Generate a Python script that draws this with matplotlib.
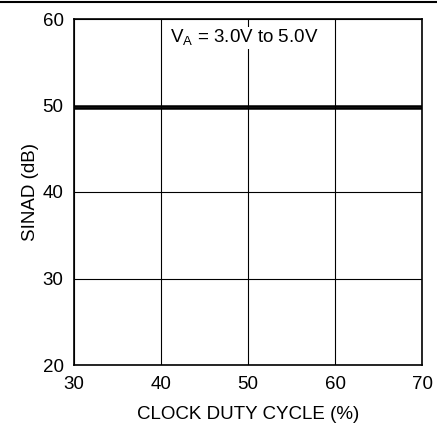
import matplotlib
matplotlib.use("Agg")
import matplotlib.pyplot as plt
from matplotlib.lines import Line2D

# SINAD vs clock duty cycle, two supply voltages
duty_cycle = [30, 35, 40, 45, 50, 55, 60, 65, 70]
sinad_3v0 = [49.9, 49.9, 49.9, 49.9, 49.9, 49.9, 49.9, 49.9, 49.9]
sinad_5v0 = [49.7, 49.7, 49.7, 49.7, 49.7, 49.7, 49.7, 49.7, 49.7]

x_ticks = [30, 40, 50, 60, 70]
y_ticks = [20, 30, 40, 50, 60]

plt.rcParams['font.family'] = ['Liberation Sans', 'DejaVu Sans']
plt.rcParams['mathtext.fontset'] = 'custom'
plt.rcParams['mathtext.rm'] = 'Liberation Sans'

fig = plt.figure(figsize=(4.37, 4.25), dpi=100)
ax = fig.add_axes([74 / 437, 1 - 365 / 425, 348 / 437, 346 / 425])

ax.plot(duty_cycle, sinad_3v0, color="black", lw=1.8, solid_capstyle="butt")
ax.plot(duty_cycle, sinad_5v0, color="black", lw=1.8, solid_capstyle="butt")

ax.set_xlim(30, 70)
ax.set_ylim(20, 60)
ax.set_xticks(x_ticks)
ax.set_yticks(y_ticks)
ax.grid(True, color="black", lw=0.8)
ax.tick_params(length=0, labelsize=13.5)
ax.tick_params(axis="x", pad=8)
ax.tick_params(axis="y", pad=7.5)
for s in ax.spines.values():
    s.set_linewidth(1.2)

ax.set_xlabel("CLOCK DUTY CYCLE (%)", fontsize=13.5, labelpad=9.5)
ax.set_ylabel("SINAD (dB)", fontsize=13.5, labelpad=2.5)

ax.text(49.6, 57.8, r"V$_\mathregular{A}$ = 3.0V to 5.0V", fontsize=13.5,
        ha="center", va="center",
        bbox=dict(facecolor="white", edgecolor="none", pad=0.5))

# rule across the top of the page
fig.add_artist(Line2D([0, 1], [1 - 2 / 425, 1 - 2 / 425], color="black", lw=1.5,
                      transform=fig.transFigure))

fig.savefig("out.png", dpi=100)
